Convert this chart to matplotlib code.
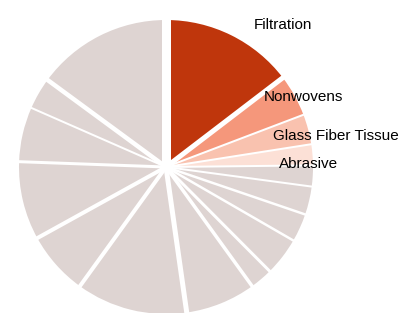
import matplotlib
matplotlib.use("Agg")
import matplotlib.pyplot as plt
import numpy as np

# ---- data (share of total) ----
categories = ["Filtration", "Nonwovens", "Glass Fiber Tissue", "Abrasive",
              "Other 1", "Other 2", "Other 3", "Other 4", "Other 5", "Other 6",
              "Other 7", "Other 8", "Other 9", "Other 10", "Other 11", "Other 12"]
values = [14.6, 4.6, 3.3, 2.3,
          2.3, 3.1, 3.1, 4.2, 2.5, 7.7,
          12.2, 7.0, 8.6, 6.0, 3.5, 14.9]
shown_labels = ["Filtration", "Nonwovens", "Glass Fiber Tissue", "Abrasive"]

# ---- style ----
highlight_colors = ["#BF360C", "#F5977B", "#F9C2AF", "#FCE0D6"]
grey = "#DED4D2"
colors = highlight_colors + [grey] * (len(values) - len(highlight_colors))
# white separator width (px) at the start boundary of each slice
gap_px = [9, 5, 2, 2, 2, 2, 2.5, 2.5, 3, 3.5, 5, 4, 4, 3, 2, 4.5]
label_pos = [(282.5, 28.7), (303, 101), (336, 140), (308.5, 168)]

W, H = 403, 313
fig = plt.figure(figsize=(W / 100, H / 100), dpi=100)
ax = fig.add_axes([0, 0, 1, 1])
cx, cy, r = 166, H - 167, 147

ax.pie(values, colors=colors, startangle=90, counterclock=False,
       center=(cx, cy), radius=r, wedgeprops=dict(linewidth=0))
ax.set_xlim(0, W)
ax.set_ylim(0, H)
ax.set_aspect("equal")
ax.axis("off")

total = float(np.sum(values))
starts = np.concatenate([[0.0], np.cumsum(values)[:-1]]) / total
for frac, g in zip(starts, gap_px):
    th = np.deg2rad(90 - 360 * frac)
    ax.plot([cx, cx + 1.03 * r * np.cos(th)], [cy, cy + 1.03 * r * np.sin(th)],
            color="white", lw=g * 0.72, solid_capstyle="butt", zorder=3)

for name, (x, y) in zip(shown_labels, label_pos):
    ax.text(x, H - y, name, ha="center", va="baseline", fontsize=11,
            family=["Liberation Sans", "DejaVu Sans"], color="#000000", zorder=5)

fig.savefig("out.png", dpi=100)
